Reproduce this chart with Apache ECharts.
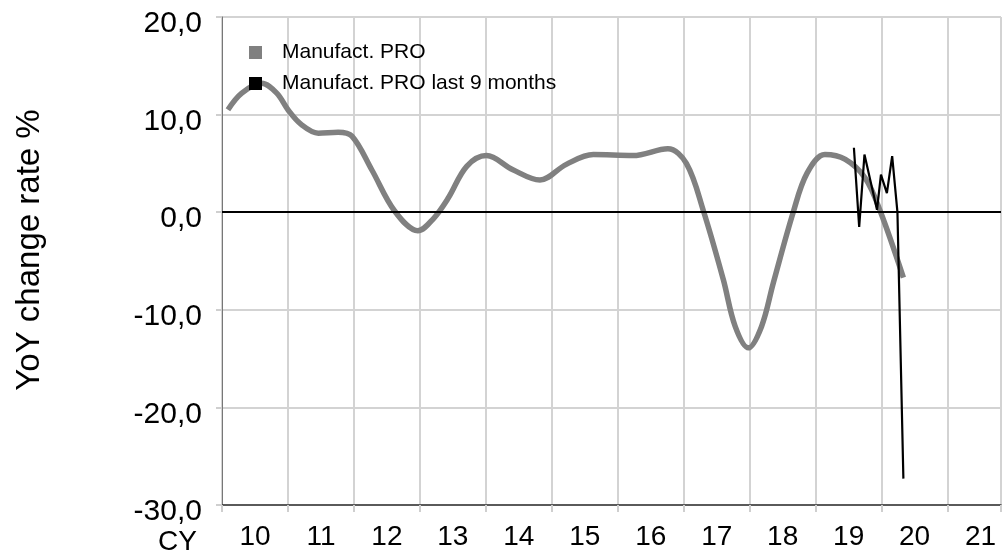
<!DOCTYPE html>
<html>
<head>
<meta charset="utf-8">
<script src="https://cdn.jsdelivr.net/npm/echarts@6/dist/echarts.min.js"></script>
<style>
html,body{margin:0;padding:0;background:#fff;}
#chart{width:1002px;height:556px;}
</style>
</head>
<body>
<div id="chart"></div>
<script>
// ---- data ----
const seriesNames = ['Manufact. PRO', 'Manufact. PRO last 9 months'];
// smoothed PRO YoY change rate, x in calendar-year decimals
const proYears  = [2010.09, 2010.30, 2010.60, 2010.83, 2011.00, 2011.20, 2011.46, 2011.76, 2011.97, 2012.27, 2012.62, 2012.97, 2013.20, 2013.43, 2013.71, 2014.01, 2014.41, 2014.82, 2015.22, 2015.63, 2016.23, 2016.76, 2017.04, 2017.30, 2017.60, 2017.78, 2017.98, 2018.18, 2018.36, 2018.66, 2018.87, 2019.14, 2019.45, 2019.75, 2019.98, 2020.33];
const proValues = [10.5, 12.2, 13.2, 12.2, 10.5, 9.0, 8.1, 8.2, 7.8, 4.35, 0.1, -1.9, -0.7, 1.45, 4.7, 5.8, 4.35, 3.3, 4.9, 5.9, 5.8, 6.5, 5.0, 0.1, -6.9, -11.7, -13.9, -11.7, -7.2, 0.0, 4.0, 5.9, 5.4, 3.5, 0.1, -6.7];
// last 9 months (monthly values)
const lastYears  = [2019.58, 2019.66, 2019.74, 2019.93, 2019.99, 2020.08, 2020.16, 2020.24, 2020.33];
const lastValues = [6.6, -1.5, 5.9, 0.25, 3.85, 1.95, 5.75, 0.0, -27.3];
// axes
const yearLabels = ['10','11','12','13','14','15','16','17','18','19','20','21'];
const firstYear = 2010;
const yMin = -30, yMax = 20, yStep = 10;
const xMin = 2010, xMax = 2021.81;

function pairs(xs, ys){ return xs.map((x,i)=>[x, ys[i]]); }
function fmtY(v){ return '{a|' + v.toFixed(1).replace('.', ',') + '}'; }

const chart = echarts.init(document.getElementById('chart'), null, {renderer:'canvas'});
const font = 'Liberation Sans, Arial, sans-serif';

chart.setOption({
  animation: false,
  backgroundColor: '#ffffff',
  textStyle: {fontFamily: font},
  grid: {left: 222, right: 1, top: 17, bottom: 51, show: true, borderColor: '#333', borderWidth: 1, backgroundColor: 'transparent'},
  legend: {
    data: seriesNames,
    orient: 'vertical',
    left: 249, top: 42, padding: 0,
    itemGap: 10, itemWidth: 13, itemHeight: 13,
    icon: 'rect',
    textStyle: {fontSize: 21, color: '#000', fontFamily: font, padding: [0,0,0,15]}
  },
  xAxis: [
    {
      type: 'value', min: xMin, max: xMax, interval: 1,
      axisLine: {show: true, onZero: false, lineStyle: {color: '#333', width: 1.5}},
      axisTick: {show: true, length: 7, lineStyle: {color: '#cfcfcf', width: 2}},
      axisLabel: {show: false},
      splitLine: {show: true, lineStyle: {color: '#d3d3d3', width: 2}}
    },
    {
      type: 'value', min: xMin + 0.5, max: xMax + 0.5, interval: 0.5,
      position: 'bottom',
      axisLine: {show: false, onZero: false},
      axisTick: {show: false},
      splitLine: {show: false},
      name: '{c|CY}', nameLocation: 'start', nameGap: 25,
      nameTextStyle: {fontSize: 28, color: '#000', fontFamily: font, verticalAlign: 'middle',
        rich: {c: {fontSize: 28, color: '#000', fontFamily: font, padding: [74,0,0,0]}}},
      axisLabel: {
        show: true, fontSize: 28, color: '#000', margin: 18, fontFamily: font,
        showMinLabel: false, showMaxLabel: false,
        formatter: function(v){
          if (Math.abs(v - Math.round(v)) > 1e-6) return '';
          const idx = Math.round(v) - (firstYear + 1);
          return (idx >= 0 && idx < yearLabels.length) ? yearLabels[idx] : '';
        }
      }
    }
  ],
  yAxis: {
    type: 'value', min: yMin, max: yMax, interval: yStep,
    axisLine: {show: true, lineStyle: {color: '#777', width: 1}},
    axisTick: {show: true, length: 6, lineStyle: {color: '#cfcfcf', width: 2}},
    axisLabel: {fontSize: 30, color: '#000', margin: 20, fontFamily: font, formatter: fmtY,
      rich: {a: {fontSize: 30, color: '#000', fontFamily: font, padding: [14,0,0,0]}}},
    splitLine: {show: true, lineStyle: {color: '#d3d3d3', width: 2}},
    name: 'YoY change rate %', nameLocation: 'middle', nameGap: 176,
    nameTextStyle: {fontSize: 33, color: '#000', fontFamily: font, padding: [0,0,0,22]}
  },
  series: [
    {
      name: 'zero', type: 'line', data: [], z: 1, silent: true,
      markLine: {
        silent: true, symbol: 'none', label: {show: false},
        lineStyle: {color: '#000', width: 2, type: 'solid'},
        data: [{yAxis: 0}]
      }
    },
    {
      name: seriesNames[0], type: 'line', z: 2,
      data: pairs(proYears, proValues),
      smooth: 0.35,
      showSymbol: false, symbol: 'none',
      lineStyle: {color: '#808080', width: 5.5},
      itemStyle: {color: '#808080'}
    },
    {
      name: seriesNames[1], type: 'line', z: 3,
      data: pairs(lastYears, lastValues),
      showSymbol: false, symbol: 'none',
      lineStyle: {color: '#000', width: 2.2},
      itemStyle: {color: '#000'}
    }
  ]
});
</script>
</body>
</html>
